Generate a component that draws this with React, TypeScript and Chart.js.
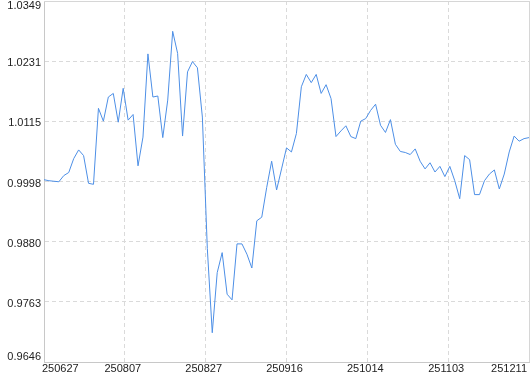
import { useEffect, useRef } from 'react';
import { Chart, registerables } from 'chart.js';

Chart.register(...registerables);

// x-axis tick labels (evenly spaced along the axis)
const xTickLabels = ['250627', '250807', '250827', '250916', '251014', '251103', '251211'];

// y-axis tick labels (evenly spaced between min and max)
const yTickLabels = ['0.9646', '0.9763', '0.9880', '0.9998', '1.0115', '1.0231', '1.0349'];
const yMin = 0.9646;
const yMax = 1.0349;

// series values, one per period
const navValues = [
  1.0001, 0.9999, 0.9998, 0.9997, 1.0009, 1.0015, 1.0042, 1.0059, 1.0048, 0.9994,
  0.9992, 1.0140, 1.0115, 1.0162, 1.0169, 1.0113, 1.0179, 1.0117, 1.0128, 1.0028,
  1.0084, 1.0246, 1.0162, 1.0164, 1.0083, 1.0156, 1.0290, 1.0247, 1.0086, 1.0211,
  1.0231, 1.0219, 1.0123, 0.9867, 0.9703, 0.9820, 0.9859, 0.9778, 0.9767, 0.9876,
  0.9876, 0.9856, 0.9829, 0.9921, 0.9928, 0.9986, 1.0037, 0.9981, 1.0022, 1.0063,
  1.0055, 1.0091, 1.0182, 1.0206, 1.0190, 1.0206, 1.0169, 1.0186, 1.0159, 1.0085,
  1.0096, 1.0106, 1.0085, 1.0081, 1.0115, 1.0120, 1.0136, 1.0148, 1.0107, 1.0093,
  1.0118, 1.0070, 1.0056, 1.0054, 1.0050, 1.0061, 1.0037, 1.0022, 1.0034, 1.0016,
  1.0027, 1.0007, 1.0027, 0.9999, 0.9964, 1.0048, 1.0040, 0.9972, 0.9972, 0.9999,
  1.0012, 1.0020, 0.9983, 1.0012, 1.0055, 1.0086, 1.0076, 1.0081, 1.0083,
];

const FONT = "'Liberation Sans', Arial, sans-serif";
const TEXT_COLOR = '#222222';
const GRID_COLOR = '#dadada';
const AXIS_COLOR = '#c8c8c8';
const LINE_COLOR = '#4d8fe6';

export default function App() {
  const canvasRef = useRef<HTMLCanvasElement>(null);

  useEffect(() => {
    const canvas = canvasRef.current;
    if (!canvas) return;
    const lastIndex = navValues.length - 1;
    const yLast = yTickLabels.length - 1;

    const align = (v: number) => Math.round(v - 0.5) + 0.5;

    const framePlugin = {
      id: 'frame',
      beforeDatasetsDraw(chart: any) {
        const { ctx, chartArea: a } = chart;
        ctx.save();
        ctx.strokeStyle = '#d6d6d6';
        ctx.lineWidth = 1;
        ctx.setLineDash([]);
        ctx.beginPath();
        const t = align(a.top);
        const r = align(a.right);
        ctx.moveTo(a.left, t);
        ctx.lineTo(r, t);
        ctx.lineTo(r, a.bottom);
        ctx.stroke();
        ctx.restore();
      },
    };

    const chart = new Chart(canvas, {
      type: 'line',
      data: {
        datasets: [
          {
            data: navValues.map((v, i) => ({ x: i, y: v })),
            borderColor: LINE_COLOR,
            borderWidth: 1,
            pointRadius: 0,
            pointHoverRadius: 0,
            fill: false,
            tension: 0,
          },
        ],
      },
      options: {
        animation: false,
        responsive: false,
        layout: { padding: { top: 1, right: 1, left: 0, bottom: 0 } },
        plugins: {
          legend: { display: false },
          tooltip: { enabled: false },
        },
        scales: {
          x: {
            type: 'linear',
            min: 0,
            max: lastIndex,
            afterBuildTicks: (s: any) => {
              s.ticks = xTickLabels.map((_, k) => ({
                value: (lastIndex * k) / (xTickLabels.length - 1),
              }));
            },
            afterFit: (s: any) => {
              s.height = 12;
              s.paddingLeft = 0;
              s.paddingRight = 0;
            },
            ticks: {
              autoSkip: false,
              maxRotation: 0,
              minRotation: 0,
              align: 'inner',
              padding: 0,
              labelOffset: -2,
              color: TEXT_COLOR,
              font: { family: FONT, size: 11 },
              callback: (_v: any, i: number) => xTickLabels[i],
            },
            grid: { color: GRID_COLOR, drawTicks: false, lineWidth: 1 },
            border: { display: true, color: AXIS_COLOR, dash: [4, 3] },
          },
          y: {
            type: 'linear',
            min: yMin,
            max: yMax,
            afterBuildTicks: (s: any) => {
              s.ticks = yTickLabels.map((_, k) => ({
                value: yMin + ((yMax - yMin) * k) / yLast,
              }));
            },
            afterFit: (s: any) => {
              s.width = 44;
              s.paddingTop = 0;
              s.paddingBottom = 0;
            },
            ticks: {
              autoSkip: false,
              padding: 3,
              labelOffset: 2,
              color: TEXT_COLOR,
              font: (ctx: any) => {
                const idx = ctx && typeof ctx.index === 'number' ? ctx.index : -1;
                let lineHeight: any = 1.2;
                if (idx === 0) lineHeight = '14px';
                else if (idx === yLast) lineHeight = '5px';
                return { family: FONT, size: 11, lineHeight };
              },
              callback: (_v: any, i: number) => {
                if (i === 0) return [yTickLabels[0], ''];
                if (i === yLast) return ['', yTickLabels[yLast]];
                return yTickLabels[i];
              },
            },
            grid: { color: GRID_COLOR, drawTicks: false, lineWidth: 1 },
            border: { display: true, color: AXIS_COLOR, dash: [4, 3] },
          },
        },
      } as any,
      plugins: [framePlugin],
    });

    return () => chart.destroy();
  }, []);

  return (
    <div style={{ position: 'fixed', left: 0, top: 0, width: 530, height: 374, background: '#ffffff' }}>
      <canvas ref={canvasRef} width={530} height={374} style={{ display: 'block' }} />
    </div>
  );
}
